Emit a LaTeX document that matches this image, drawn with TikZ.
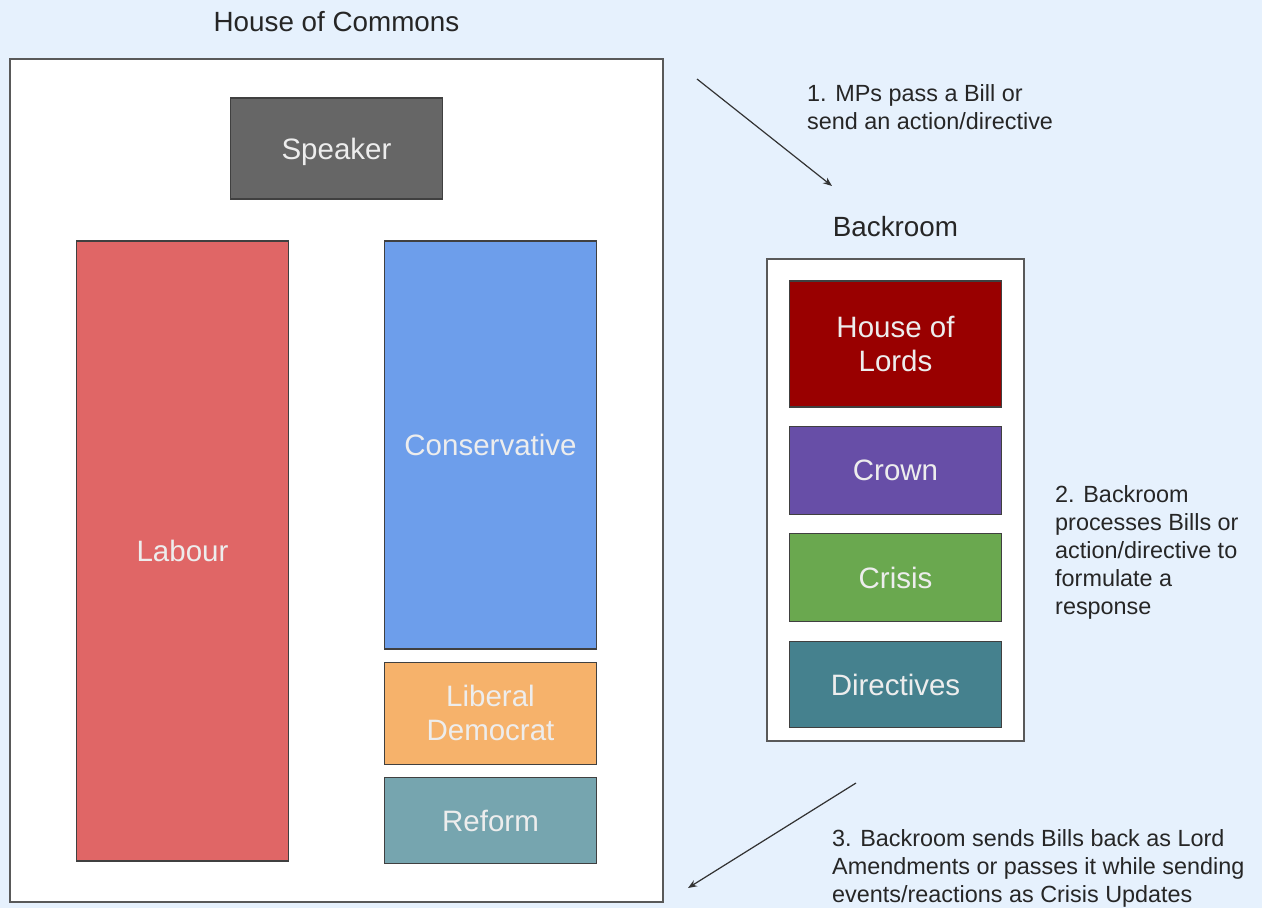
\documentclass[tikz,border=0pt]{standalone}
\usepackage{fontspec}
\setmainfont{Liberation Sans}
\usetikzlibrary{positioning,arrows.meta}
\definecolor{bgblue}{HTML}{E6F1FD}
\definecolor{spkgray}{HTML}{666666}
\definecolor{labred}{HTML}{E06666}
\definecolor{conblue}{HTML}{6D9EEB}
\definecolor{ldorange}{HTML}{F6B26B}
\definecolor{reftea}{HTML}{76A5AF}
\definecolor{lordred}{HTML}{990000}
\definecolor{crownpur}{HTML}{674EA7}
\definecolor{crisgrn}{HTML}{6AA84F}
\definecolor{dirteal}{HTML}{45818E}
\begin{document}
\begin{tikzpicture}[x=1pt,y=-1pt,
    seat/.style={draw=black!75,line width=1.2pt,inner sep=0pt,text=white!93!black,
      align=center,font=\fontsize{29.5}{34}\selectfont,minimum width=212pt,text depth=0pt},
    room/.style={draw=black!65,fill=white,line width=1.2pt,inner sep=0pt},
    head/.style={text=black!85,font=\fontsize{27.8}{32}\selectfont},
    note/.style={text=black!85,align=left,anchor=north west,inner sep=0pt,
      font=\fontsize{23.4}{28}\selectfont},
    flow/.style={draw=black!80,line width=1.2pt,-{Stealth[length=9pt,width=7pt]}}]
 \useasboundingbox[fill=bgblue] (0,0) rectangle (1262,908);
 % House of Commons
 \node[room,minimum width=653pt,minimum height=843pt] (commons) at (336.5,480.5) {};
 \node[head] (commonsT) at (336.5,22) {House of Commons};
 \node[seat,fill=spkgray,minimum height=101pt] (speaker) at (336.5,148.5) {Speaker};
 \node[seat,fill=labred,minimum height=620pt] (labour) at (182.5,551) {Labour};
 \node[seat,fill=conblue,minimum height=408pt] (cons) at (490.5,445) {Conservative};
 \node[seat,fill=ldorange,minimum height=102pt,below=12pt of cons] (libdem) {Liberal\\Democrat};
 \node[seat,fill=reftea,minimum height=86pt,below=12pt of libdem] (reform) {Reform};
 % Backroom
 \node[room,minimum width=257pt,minimum height=482pt] (backroom) at (895.5,500) {};
 \node[head] (backroomT) at (895.5,227) {Backroom};
 \node[seat,fill=lordred,minimum height=126pt] (lords) at (895.5,344) {House of\\Lords};
 \node[seat,fill=crownpur,minimum height=88pt,below=18pt of lords] (crown) {Crown};
 \node[seat,fill=crisgrn,minimum height=88pt,below=18pt of crown] (crisis) {Crisis};
 \node[seat,fill=dirteal,minimum height=86pt,below=19pt of crisis] (directives) {Directives};
 % steps
 \coordinate (s1a) at (697,79);
 \coordinate (s1b) at (832,186);
 \coordinate (s3a) at (856,783);
 \coordinate (s3b) at (688,888);
 \draw[flow] (s1a) -- (s1b);
 \draw[flow] (s3a) -- (s3b);
 \node[note] (step1) at (807,84) {1. MPs pass a Bill or\\send an action/directive};
 \node[note] (step2) at (1055,485) {2. Backroom\\processes Bills or\\action/directive to\\formulate a\\response};
 \node[note] (step3) at (832,829) {3. Backroom sends Bills back as Lord\\Amendments or passes it while sending\\events/reactions as Crisis Updates};
\end{tikzpicture}
\end{document}
